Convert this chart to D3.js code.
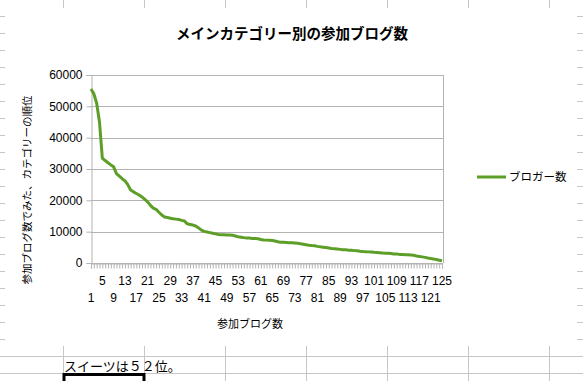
<!DOCTYPE html>
<html>
<head>
<meta charset="utf-8">
<script src="https://cdn.jsdelivr.net/npm/d3@7"></script>
<style>
  body { margin: 0; background: #fff; }
  svg { display: block; }
  text { font-family: "Liberation Sans", Arial, sans-serif; }
  .jp { font-family: "Noto Sans CJK JP", sans-serif; }
</style>
</head>
<body>
<div id="chart"></div>
<script>
var title = "メインカテゴリー別の参加ブログ数";
var yTitle = "参加ブログ数でみた、カテゴリーの順位";
var xTitle = "参加ブログ数";
var seriesName = "ブロガー数";
var note = "スイーツは５２位。";

var categories = d3.range(1, 126);
var bloggers = [
  55500, 54000, 51000, 45000, 33500, 32700, 32000, 31300, 30700, 28500,
  27700, 26900, 26200, 25000, 23300, 22700, 22200, 21700, 21100, 20300,
  19500, 18400, 17500, 17100, 16200, 15300, 14700, 14500, 14300, 14100,
  14000, 13900, 13600, 13400, 12500, 12300, 12100, 11800, 11200, 10500,
  10100, 9900, 9700, 9500, 9300, 9100, 9050, 9000, 8950, 8900,
  8850, 8600, 8400, 8250, 8100, 8000, 7950, 7850, 7800, 7750,
  7500, 7350, 7300, 7250, 7200, 7000, 6800, 6650, 6600, 6550,
  6500, 6450, 6400, 6300, 6150, 6000, 5800, 5650, 5550, 5500,
  5300, 5150, 5050, 4950, 4800, 4650, 4550, 4450, 4350, 4250,
  4200, 4100, 4050, 3950, 3900, 3750, 3650, 3600, 3550, 3500,
  3400, 3350, 3300, 3200, 3150, 3100, 3000, 2900, 2850, 2750,
  2700, 2650, 2600, 2550, 2450, 2250, 2100, 1950, 1800, 1600,
  1450, 1250, 1100, 900, 700
];
var yTicks = [0, 10000, 20000, 30000, 40000, 50000, 60000];
var xLabelsUpper = [5, 13, 21, 29, 37, 45, 53, 61, 69, 77, 85, 93, 101, 109, 117, 125];
var xLabelsLower = [1, 9, 17, 25, 33, 41, 49, 57, 65, 73, 81, 89, 97, 105, 113, 121];

var W = 583, H = 381;
var lineColor = "#5c9e27";
var sheetGrid = "#c6c6c6";

var svg = d3.select("#chart").append("svg").attr("width", W).attr("height", H);

// spreadsheet behind the chart
var colX = [63, 144, 225, 306, 387, 468, 549];
var rowY = d3.range(16, 340, 17);
var sheet = svg.append("g").attr("stroke", sheetGrid).attr("stroke-width", 1).attr("shape-rendering", "crispEdges");
colX.forEach(function(x){
  sheet.append("line").attr("x1", x + .5).attr("x2", x + .5).attr("y1", 0).attr("y2", 8);
  sheet.append("line").attr("x1", x + .5).attr("x2", x + .5).attr("y1", 346).attr("y2", H);
});
rowY.forEach(function(y){
  sheet.append("line").attr("x1", 0).attr("x2", 5).attr("y1", y + .5).attr("y2", y + .5);
  sheet.append("line").attr("x1", 577).attr("x2", W).attr("y1", y + .5).attr("y2", y + .5);
});
[356, 373].forEach(function(y){
  sheet.append("line").attr("x1", 0).attr("x2", W).attr("y1", y + .5).attr("y2", y + .5);
});

svg.append("text").attr("class", "jp")
  .attr("x", 64).attr("y", 371)
  .attr("font-size", 13).attr("fill", "#000")
  .text(note);

// selected cell border
svg.append("path")
  .attr("d", "M64,381 V374.5 H144 V381")
  .attr("fill", "none").attr("stroke", "#000").attr("stroke-width", 3);

// chart area
var x = d3.scalePoint().domain(categories).range([91, 442]);
var y = d3.scaleLinear().domain([0, 60000]).range([263, 75]);

var g = svg.append("g");

g.append("g")
  .selectAll("line").data(yTicks).enter().append("line")
  .attr("x1", 91).attr("x2", 443)
  .attr("y1", function(d){ return Math.round(y(d)) + .5; })
  .attr("y2", function(d){ return Math.round(y(d)) + .5; })
  .attr("stroke", "#b3b3b3");

g.append("line").attr("x1", 443.5).attr("x2", 443.5).attr("y1", 75).attr("y2", 263)
  .attr("stroke", "#b3b3b3");

var yAxis = g.append("g")
  .attr("transform", "translate(91.5,0)")
  .call(d3.axisLeft(y).tickValues(yTicks).tickSize(5).tickPadding(4).tickFormat(d3.format("d")));
yAxis.select(".domain").attr("stroke", "#b3b3b3");
yAxis.selectAll(".tick line").attr("stroke", "#b3b3b3");
yAxis.selectAll(".tick text").attr("font-size", 12).attr("fill", "#000")
  .attr("font-family", "Liberation Sans, Arial, sans-serif");

var xAxis = g.append("g")
  .attr("transform", "translate(0,263.5)")
  .call(d3.axisBottom(x).tickSize(5).tickFormat(""));
xAxis.select(".domain").attr("stroke", "#b3b3b3");
xAxis.selectAll(".tick line").attr("stroke", "#b3b3b3");

g.append("g").selectAll("text").data(xLabelsUpper).enter().append("text")
  .attr("x", function(d){ return x(d); }).attr("y", 285)
  .attr("text-anchor", "middle").attr("font-size", 12).attr("fill", "#000")
  .text(function(d){ return d; });
g.append("g").selectAll("text").data(xLabelsLower).enter().append("text")
  .attr("x", function(d){ return x(d); }).attr("y", 302)
  .attr("text-anchor", "middle").attr("font-size", 12).attr("fill", "#000")
  .text(function(d){ return d; });

var line = d3.line()
  .x(function(d, i){ return x(categories[i]); })
  .y(function(d){ return y(d); });

g.append("path").datum(bloggers)
  .attr("d", line)
  .attr("fill", "none")
  .attr("stroke", lineColor)
  .attr("stroke-width", 3)
  .attr("stroke-linejoin", "round");

// titles
svg.append("text").attr("class", "jp")
  .attr("x", 292).attr("y", 39)
  .attr("text-anchor", "middle").attr("font-size", 14.5).attr("font-weight", "bold")
  .text(title);

svg.append("text").attr("class", "jp")
  .attr("x", 250).attr("y", 328)
  .attr("text-anchor", "middle").attr("font-size", 11)
  .text(xTitle);

svg.append("text").attr("class", "jp")
  .attr("transform", "translate(31,190) rotate(-90)")
  .attr("text-anchor", "middle").attr("font-size", 10.5)
  .text(yTitle);

// legend
svg.append("line").attr("x1", 477).attr("x2", 506).attr("y1", 177).attr("y2", 177)
  .attr("stroke", lineColor).attr("stroke-width", 3);
svg.append("text").attr("class", "jp")
  .attr("x", 509).attr("y", 181)
  .attr("font-size", 11.5)
  .text(seriesName);
</script>
</body>
</html>
